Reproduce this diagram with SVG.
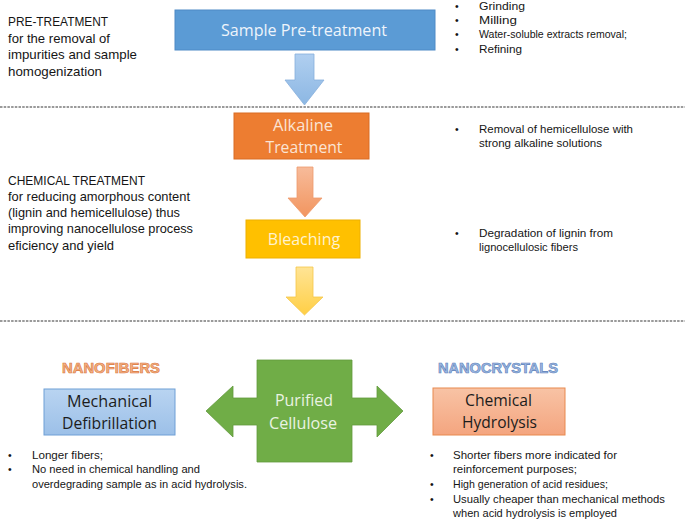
<svg xmlns="http://www.w3.org/2000/svg" width="685" height="520" viewBox="0 0 685 520">
<defs>
<linearGradient id="gBlueArr" x1="0" y1="0" x2="0" y2="1"><stop offset="0" stop-color="#b0cff0"/><stop offset="1" stop-color="#8cb7e3"/></linearGradient>
<linearGradient id="gOrArr" x1="0" y1="0" x2="0" y2="1"><stop offset="0" stop-color="#f7bb9a"/><stop offset="1" stop-color="#f2955f"/></linearGradient>
<linearGradient id="gYeArr" x1="0" y1="0" x2="0" y2="1"><stop offset="0" stop-color="#ffe495"/><stop offset="1" stop-color="#ffcf45"/></linearGradient>
<linearGradient id="gMech" x1="0" y1="0" x2="0" y2="1"><stop offset="0" stop-color="#b9d4f1"/><stop offset="1" stop-color="#9cc0e8"/></linearGradient>
<linearGradient id="gChem" x1="0" y1="0" x2="0" y2="1"><stop offset="0" stop-color="#f8c3a5"/><stop offset="1" stop-color="#f4a57f"/></linearGradient>
</defs>
<style>
.t{font-family:"Liberation Sans",Arial,sans-serif;fill:#151515;}
.h{font-size:13.5px;}
.s{font-size:10.5px;}
.b{font-family:"Open Sans","Liberation Sans",Arial,sans-serif;text-anchor:middle;}
.div{stroke:#7a7a7a;stroke-width:1.6;stroke-dasharray:2.5 1.2;fill:none;}
.cat{font-family:"Liberation Sans",Arial,sans-serif;font-weight:bold;font-size:14.5px;stroke-width:0.6;}
</style>
<rect width="685" height="520" fill="#ffffff"/>

<g id="dividers">
<line class="div" x1="0" y1="107" x2="685" y2="107"/>
<line class="div" x1="0" y1="321" x2="685" y2="321"/>
</g>

<g id="pretreatment-label">
<text class="t h" x="8" y="26" textLength="100" lengthAdjust="spacingAndGlyphs">PRE-TREATMENT</text>
<text class="t h" x="8" y="43" textLength="102" lengthAdjust="spacingAndGlyphs">for the removal of</text>
<text class="t h" x="8" y="59" textLength="129" lengthAdjust="spacingAndGlyphs">impurities and sample</text>
<text class="t h" x="8" y="76" textLength="94" lengthAdjust="spacingAndGlyphs">homogenization</text>
</g>

<g id="chemical-label">
<text class="t h" x="8" y="185" textLength="137" lengthAdjust="spacingAndGlyphs">CHEMICAL TREATMENT</text>
<text class="t h" x="8" y="201" textLength="182" lengthAdjust="spacingAndGlyphs">for reducing amorphous content</text>
<text class="t h" x="8" y="217" textLength="172" lengthAdjust="spacingAndGlyphs">(lignin and hemicellulose) thus</text>
<text class="t h" x="8" y="233" textLength="185" lengthAdjust="spacingAndGlyphs">improving nanocellulose process</text>
<text class="t h" x="8" y="250" textLength="106" lengthAdjust="spacingAndGlyphs">eficiency and yield</text>
</g>

<g id="pretreatment-notes">
<text class="t s" x="455" y="10">•</text><text class="t s" x="479" y="10" textLength="46" lengthAdjust="spacingAndGlyphs">Grinding</text>
<text class="t s" x="455" y="24">•</text><text class="t s" x="479" y="24" textLength="38" lengthAdjust="spacingAndGlyphs">Milling</text>
<text class="t s" x="455" y="38">•</text><text class="t s" x="479" y="38" textLength="148" lengthAdjust="spacingAndGlyphs">Water-soluble extracts removal;</text>
<text class="t s" x="455" y="53">•</text><text class="t s" x="479" y="53" textLength="43" lengthAdjust="spacingAndGlyphs">Refining</text>
</g>

<g id="alkaline-notes">
<text class="t s" x="455" y="133">•</text><text class="t s" x="479" y="133" textLength="154" lengthAdjust="spacingAndGlyphs">Removal of hemicellulose with</text>
<text class="t s" x="479" y="147" textLength="123" lengthAdjust="spacingAndGlyphs">strong alkaline solutions</text>
</g>

<g id="bleaching-notes">
<text class="t s" x="455" y="237">•</text><text class="t s" x="479" y="237" textLength="134" lengthAdjust="spacingAndGlyphs">Degradation of lignin from</text>
<text class="t s" x="479" y="251" textLength="99" lengthAdjust="spacingAndGlyphs">lignocellulosic fibers</text>
</g>

<g id="connectors">
<path d="M295,54 H314 V80 H324 L304.5,105 L285,80 H295 Z" fill="url(#gBlueArr)" stroke="#86afdc" stroke-width="0.8"/>
<path d="M297,167 H313 V198 H322 L305,217 L288,198 H297 Z" fill="url(#gOrArr)" stroke="#ee9a6c" stroke-width="0.8"/>
<path d="M296,267 H313 V297 H323 L304.5,315 L286,297 H296 Z" fill="url(#gYeArr)" stroke="#f5c64a" stroke-width="0.8"/>
</g>

<g id="sample-pretreatment">
<rect x="175" y="10" width="260" height="40" fill="#5b9bd5" stroke="#4f8ac6" stroke-width="1"/>
<text class="b" x="304" y="36" font-size="16" fill="#eef4fb" textLength="166" lengthAdjust="spacingAndGlyphs">Sample Pre-treatment</text>
</g>

<g id="alkaline-treatment">
<rect x="234" y="113" width="135" height="46" fill="#ed7d31" stroke="#d96d25" stroke-width="1"/>
<text class="b" x="303" y="131" font-size="15.5" fill="#fbe4d4" textLength="60" lengthAdjust="spacingAndGlyphs">Alkaline</text>
<text class="b" x="304" y="153" font-size="15.5" fill="#fbe4d4" textLength="77" lengthAdjust="spacingAndGlyphs">Treatment</text>
</g>

<g id="bleaching">
<rect x="246" y="220" width="114" height="38" fill="#ffc000" stroke="#eeb000" stroke-width="1"/>
<text class="b" x="304" y="245" font-size="16" fill="#fff3cf">Bleaching</text>
</g>

<g id="nanofibers-label">
<text class="cat" x="111" y="373" text-anchor="middle" fill="#f4b183" stroke="#d9773f" textLength="98" lengthAdjust="spacingAndGlyphs">NANOFIBERS</text>
</g>

<g id="nanocrystals-label">
<text class="cat" x="498" y="373" text-anchor="middle" fill="#9bb8e3" stroke="#5d80b8" textLength="120" lengthAdjust="spacingAndGlyphs">NANOCRYSTALS</text>
</g>

<g id="purified-cellulose">
<path d="M206,411 L233,386 L233,398 L257,398 L257,360 L352,360 L352,398 L377,398 L377,386 L403,411 L377,437 L377,425 L352,425 L352,462 L257,462 L257,425 L233,425 L233,437 Z" fill="#70ad47" stroke="#62993d" stroke-width="0.8"/>
<text class="b" x="304" y="406" font-size="16.5" fill="#eaf3e2" textLength="58" lengthAdjust="spacingAndGlyphs">Purified</text>
<text class="b" x="303" y="429" font-size="16.5" fill="#eaf3e2" textLength="68" lengthAdjust="spacingAndGlyphs">Cellulose</text>
</g>

<g id="mechanical-defibrillation">
<rect x="44" y="389" width="131" height="46" fill="url(#gMech)" stroke="#6f9fd6" stroke-width="1"/>
<text class="b" x="109.5" y="407" font-size="15.5" fill="#1c1c1c" textLength="85" lengthAdjust="spacingAndGlyphs">Mechanical</text>
<text class="b" x="109.5" y="429" font-size="15.5" fill="#1c1c1c" textLength="95" lengthAdjust="spacingAndGlyphs">Defibrillation</text>
</g>

<g id="chemical-hydrolysis">
<rect x="433" y="388" width="132" height="47" fill="url(#gChem)" stroke="#e8894f" stroke-width="1"/>
<text class="b" x="498.5" y="406" font-size="15.5" fill="#1c1c1c" textLength="67" lengthAdjust="spacingAndGlyphs">Chemical</text>
<text class="b" x="499.5" y="428" font-size="15.5" fill="#1c1c1c" textLength="75" lengthAdjust="spacingAndGlyphs">Hydrolysis</text>
</g>

<g id="nanofibers-notes">
<text class="t s" x="8" y="459">•</text><text class="t s" x="32" y="459" textLength="71" lengthAdjust="spacingAndGlyphs">Longer fibers;</text>
<text class="t s" x="8" y="473">•</text><text class="t s" x="32" y="473" textLength="168" lengthAdjust="spacingAndGlyphs">No need in chemical handling and</text>
<text class="t s" x="32" y="488" textLength="215" lengthAdjust="spacingAndGlyphs">overdegrading sample as in acid hydrolysis.</text>
</g>

<g id="nanocrystals-notes">
<text class="t s" x="430" y="459">•</text><text class="t s" x="453" y="459" textLength="164" lengthAdjust="spacingAndGlyphs">Shorter fibers more indicated for</text>
<text class="t s" x="453" y="473" textLength="124" lengthAdjust="spacingAndGlyphs">reinforcement purposes;</text>
<text class="t s" x="430" y="488">•</text><text class="t s" x="453" y="488" textLength="155" lengthAdjust="spacingAndGlyphs">High generation of acid residues;</text>
<text class="t s" x="430" y="503">•</text><text class="t s" x="453" y="503" textLength="212" lengthAdjust="spacingAndGlyphs">Usually cheaper than mechanical methods</text>
<text class="t s" x="453" y="517" textLength="164" lengthAdjust="spacingAndGlyphs">when acid hydrolysis is employed</text>
</g>
</svg>
